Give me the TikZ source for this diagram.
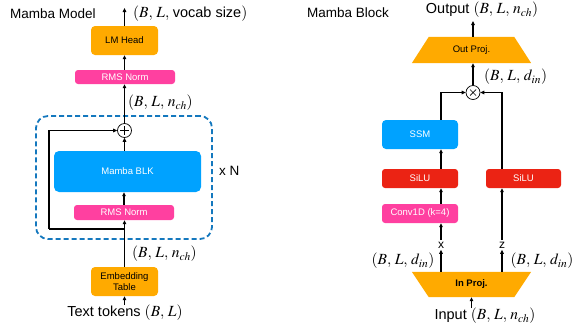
\documentclass[tikz,border=0pt]{standalone}
\usepackage{mathptmx}
\usepackage[no-math]{fontspec}
\setmainfont{Liberation Sans}
\usetikzlibrary{arrows.meta,backgrounds,calc}
\definecolor{morange}{RGB}{255,170,0}
\definecolor{mpink}{RGB}{255,64,160}
\definecolor{mblue}{RGB}{0,162,255}
\definecolor{mred}{RGB}{235,35,20}
\definecolor{mdash}{RGB}{20,120,190}
\newcommand{\mlab}[1]{{\fontsize{15.5}{18}\selectfont$#1$}}
\begin{document}
\begin{tikzpicture}[x=1pt,y=-1pt,
  box/.style={rectangle, rounded corners=4pt, inner sep=0pt, font=\fontsize{9.5}{11.5}\selectfont, align=center},
  thinbox/.style={box, rounded corners=3pt},
  lab/.style={inner sep=0pt, font=\fontsize{14.5}{16}\selectfont},
  head/.style={inner sep=0pt, font=\fontsize{13.5}{16}\selectfont},
  arr/.style={-{Triangle[length=4pt,width=3.6pt]}, line width=1.1pt},
  opcirc/.style={circle, draw, line width=0.7pt, minimum size=14pt, inner sep=0pt},
  branch/.style={inner sep=1.5pt, font=\fontsize{12}{14}\selectfont}
]
\useasboundingbox (0,0) rectangle (581,327);

% ---------------- left: Mamba Model ----------------
\node[head, anchor=west] (title1) at (10,14) {Mamba Model};
\node[draw=mdash, dash pattern=on 5pt off 3pt, line width=1.8pt, rounded corners=12pt,
      minimum width=176pt, minimum height=123pt] (grp) at (124,177.5) {};
\node[box, fill=morange, minimum width=67pt, minimum height=29pt] (lmhead) at (124.5,40.5) {LM Head};
\node[thinbox, fill=mpink, text=white, minimum width=100pt, minimum height=14pt] (rms1) at (125,77) {RMS Norm};
\node[opcirc] (plus) at (124.5,130.5) {};
\draw[line width=0.7pt] ($(plus.center)+(-4.5,0)$) -- ($(plus.center)+(4.5,0)$)
      ($(plus.center)+(0,-4.5)$) -- ($(plus.center)+(0,4.5)$);
\node[box, rounded corners=5pt, fill=mblue, text=white, minimum width=147pt, minimum height=41pt] (blk) at (127.5,171.5) {Mamba BLK};
\node[thinbox, fill=mpink, text=white, minimum width=100pt, minimum height=15pt] (rms2) at (124,212.5) {RMS Norm};
\node[box, fill=morange, minimum width=67pt, minimum height=29pt] (emb) at (124.5,281.5) {Embedding\\Table};
\node[lab] (tok) at (125,313) {Text tokens \mlab{(B,\, L)}};
\node[head, anchor=west] (xn) at (219,171) {x N};
\node[lab, anchor=west] (vocab) at (133,14) {\mlab{(B,\, L,\, \mbox{\fontsize{14.5}{16}\selectfont vocab size})}};
\node[lab, anchor=west] (nch1) at (128,103) {\mlab{(B,\, L,\, n_{ch})}};
\node[lab, anchor=west] (nch2) at (132,254) {\mlab{(B,\, L,\, n_{ch})}};

\coordinate (resA) at (124.5,229);
\coordinate (resB) at (49,229);
\coordinate (top1) at (124.5,8);
\draw[arr] (tok.north -| emb.north) -- (emb.south);
\draw[arr] (emb.north) -- (emb.north |- rms2.south);
\draw[line width=1.1pt] (resA) -- (resB);
\draw[arr] (resB) |- (plus.west);
\draw[arr] (rms2.north) -- (rms2.north |- blk.south);
\draw[arr] (plus.south |- blk.north) -- (plus.south);
\draw[arr] (plus.north) -- (plus.north |- rms1.south);
\draw[arr] (rms1.north -| lmhead.south) -- (lmhead.south);
\draw[arr] (lmhead.north) -- (top1);

% ---------------- right: Mamba Block ----------------
\node[head, anchor=west] (title2) at (307,13) {Mamba Block};
\node[lab] (output) at (482,10) {Output \mlab{(B,\, L,\, n_{ch})}};
\node[box, minimum width=119pt, minimum height=26pt] (outproj) at (471.5,50) {Out Proj.};
\node[opcirc] (times) at (473,92.5) {};
\draw[line width=0.7pt] ($(times.center)+(-3,-3)$) -- ($(times.center)+(3,3)$)
      ($(times.center)+(-3,3)$) -- ($(times.center)+(3,-3)$);
\node[lab, anchor=west] (din1) at (484,77) {\mlab{(B,\, L,\, d_{in})}};
\node[box, fill=mblue, text=white, minimum width=76pt, minimum height=29pt] (ssm) at (420,134.5) {SSM};
\node[thinbox, fill=mred, text=white, minimum width=76pt, minimum height=19pt] (silu1) at (420,178.5) {SiLU};
\node[thinbox, fill=mred, text=white, minimum width=75pt, minimum height=19pt] (silu2) at (523.5,178.5) {SiLU};
\node[thinbox, fill=mpink, text=white, minimum width=76pt, minimum height=19pt] (conv) at (420,213.5) {Conv1D (k=4)};
\node[branch] (xlab) at (441,245) {x};
\node[branch] (zlab) at (502,245) {z};
\node[lab] (din2) at (403,261) {\mlab{(B,\, L,\, d_{in})}};
\node[lab] (din3) at (542,261) {\mlab{(B,\, L,\, d_{in})}};
\node[box, font=\fontsize{9.5}{11.5}\selectfont\bfseries, minimum width=119pt, minimum height=25pt] (inproj) at (471.5,284.5) {In Proj.};
\node[lab] (input) at (485,316) {Input \mlab{(B,\, L,\, n_{ch})}};
\begin{scope}[on background layer]
\fill[morange] (outproj.south west) -- ([xshift=17pt]outproj.north west) -- ([xshift=-17pt]outproj.north east) -- (outproj.south east) -- cycle;
\fill[morange] (inproj.north west) -- (inproj.north east) -- ([xshift=-17pt]inproj.south east) -- ([xshift=17pt]inproj.south west) -- cycle;
\end{scope}

\coordinate (top2) at (473,21);
\draw[arr] (inproj.south |- input.north) -- (inproj.south);
\draw[arr] (xlab |- inproj.north) -- (xlab.south);
\draw[arr] (xlab.north) -- (xlab |- conv.south);
\draw[arr] (xlab |- conv.north) -- (xlab |- silu1.south);
\draw[arr] (xlab |- silu1.north) -- (xlab |- ssm.south);
\draw[arr] (xlab |- ssm.north) |- (times.west);
\draw[arr] (zlab |- inproj.north) -- (zlab.south);
\draw[arr] (zlab.north) -- (zlab |- silu2.south);
\draw[arr] (zlab |- silu2.north) |- (times.east);
\draw[arr] (times.north) -- (times.north |- outproj.south);
\draw[arr] (times.north |- outproj.north) -- (top2);
\end{tikzpicture}
\end{document}
